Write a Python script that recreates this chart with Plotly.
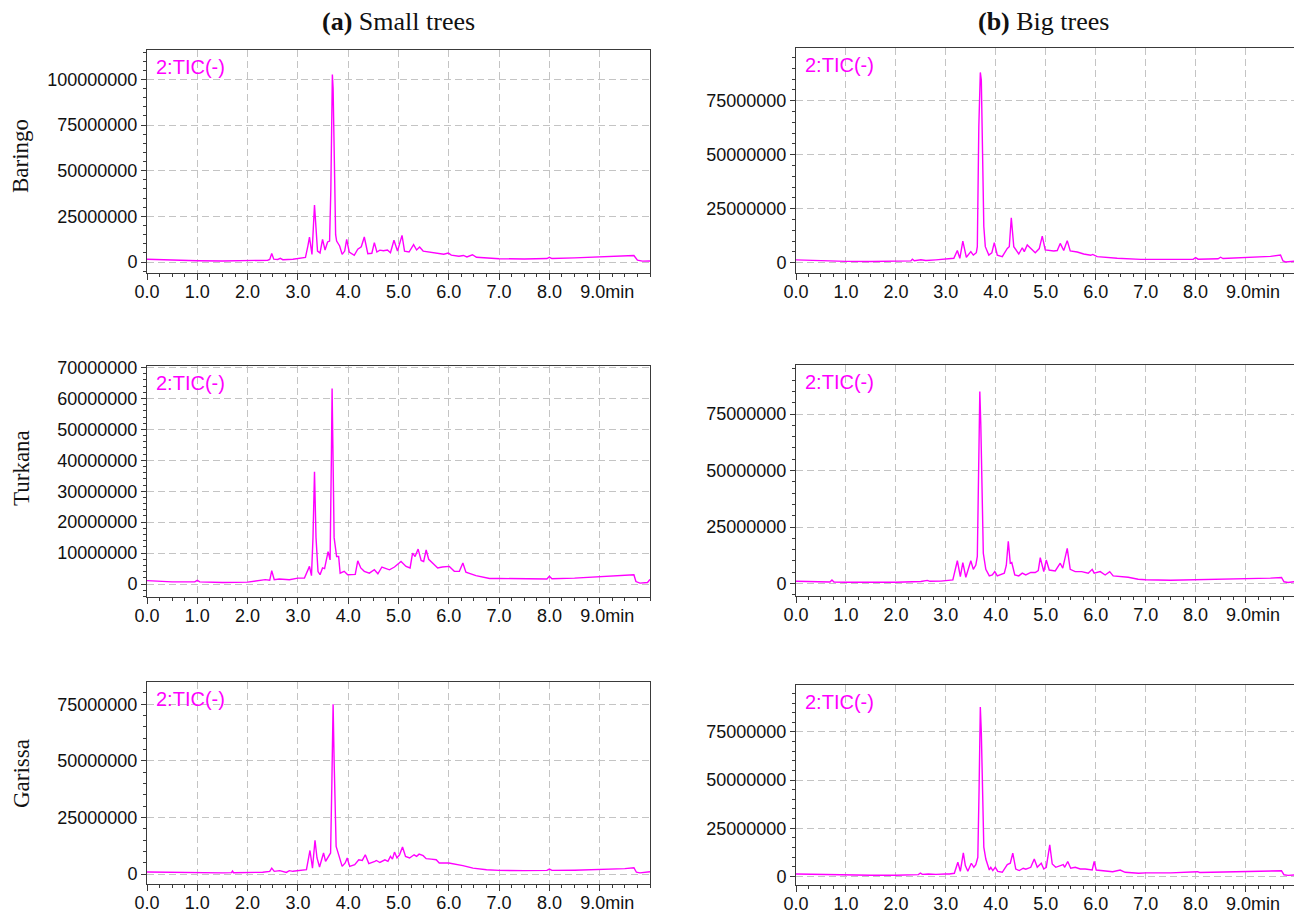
import numpy as np
import plotly.graph_objects as go

# ---------------- data (time in min, intensity in millions) ----------------
baringo_small_t = [0, 0.5, 1.0, 1.5, 2.0, 2.4, 2.44, 2.48, 2.52, 2.6, 2.65, 2.7, 2.9, 3.0, 3.1, 3.15, 3.2, 3.23, 3.28,
                   3.33, 3.39, 3.44, 3.49, 3.54, 3.59, 3.63, 3.655, 3.675, 3.685, 3.70, 3.725, 3.75, 3.77, 3.83, 3.88,
                   3.93, 3.97, 4.02, 4.12, 4.19, 4.26, 4.32, 4.39, 4.47, 4.52, 4.57, 4.63, 4.7, 4.78, 4.84, 4.91, 4.98,
                   5.07, 5.12, 5.21, 5.3, 5.36, 5.42, 5.49, 5.62, 5.75, 5.9, 5.99, 6.05, 6.2, 6.29, 6.36, 6.47, 6.55,
                   6.72, 6.9, 7.0, 7.5, 7.95, 8.0, 8.05, 8.5, 9.0, 9.5, 9.68, 9.75, 9.85, 10.0]
baringo_small_y = [1.5, 1.0, 0.7, 0.6, 0.8, 1.0, 1.4, 4.7, 1.6, 1.4, 2.0, 1.3, 1.5, 1.8, 2.0, 2.5, 9, 13.7, 4.2,
                   31.2, 6.0, 5.0, 12.4, 6.6, 11.0, 11.5, 40, 100, 102.7, 95, 50, 15, 11.5, 8.8, 4.2,
                   6.0, 12.4, 5.5, 3.7, 7.0, 8.4, 13.7, 4.6, 4.8, 10.6, 5.5, 6.5, 6.2, 6.6, 5.1, 11.9, 6.0,
                   14.6, 6.0, 5.5, 9.5, 6.6, 8.2, 6.0, 5.5, 4.7, 4.3, 4.9, 3.8, 3.2, 3.6, 2.8, 4.0, 2.6,
                   2.4, 2.0, 1.8, 1.7, 1.9, 2.6, 1.9, 2.3, 2.8, 3.3, 3.6, 1.0, 0.5, 0.6]

baringo_big_t = [0, 0.5, 1.0, 1.5, 2.0, 2.3, 2.33, 2.37, 2.5, 2.6, 2.8, 3.0, 3.16, 3.23, 3.28, 3.34, 3.41, 3.5, 3.55,
                 3.61, 3.63, 3.66, 3.69, 3.71, 3.73, 3.76, 3.79, 3.86, 3.92, 3.97, 4.03, 4.13, 4.23, 4.27, 4.31, 4.36,
                 4.46, 4.53, 4.57, 4.63, 4.79, 4.87, 4.93, 4.99, 5.16, 5.23, 5.29, 5.36, 5.43, 5.49, 5.63, 5.76, 5.9,
                 5.94, 6.03, 6.43, 6.9, 7.5, 7.95, 8.0, 8.05, 8.45, 8.5, 8.55, 9.0, 9.5, 9.7, 9.75, 9.8, 10.05]
baringo_big_y = [1.3, 0.9, 0.6, 0.5, 0.6, 0.8, 1.6, 0.9, 1.3, 1.0, 1.3, 1.5, 2.0, 5.6, 2.0, 10.0, 2.5, 5.1, 3.5,
                 4.6, 7.4, 63, 88.1, 84.5, 63, 16.7, 7.4, 3.5, 4.5, 9.3, 3.5, 2.8, 6.6, 7.4, 20.8, 7.4,
                 4.0, 6.9, 5.1, 8.2, 4.6, 6.5, 12.3, 5.9, 5.4, 5.6, 8.9, 5.6, 10.2, 5.4, 4.9, 4.0, 3.4,
                 3.8, 2.8, 2.0, 1.5, 1.4, 1.5, 2.3, 1.6, 1.8, 2.5, 1.9, 2.3, 2.9, 3.5, 0.8, 0.3, 0.8]

turkana_small_t = [0, 0.5, 0.95, 1.0, 1.05, 1.5, 2.0, 2.35, 2.44, 2.48, 2.53, 2.63, 2.83, 3.0, 3.13, 3.23, 3.27, 3.3,
                   3.33, 3.36, 3.40, 3.44, 3.49, 3.53, 3.6, 3.64, 3.665, 3.68, 3.695, 3.72, 3.77, 3.81, 3.84, 3.92,
                   3.99, 4.14, 4.19, 4.25, 4.32, 4.42, 4.52, 4.59, 4.67, 4.82, 4.92, 5.05, 5.15, 5.23, 5.28, 5.33,
                   5.39, 5.45, 5.5, 5.55, 5.6, 5.68, 5.78, 5.87, 6.01, 6.11, 6.21, 6.28, 6.34, 6.54, 6.81, 7.0, 7.5,
                   7.95, 8.0, 8.05, 8.5, 9.0, 9.5, 9.68, 9.72, 9.8, 9.95, 10.0]
turkana_small_y = [1.1, 0.7, 0.7, 1.2, 0.7, 0.5, 0.6, 1.4, 1.2, 4.3, 1.4, 1.6, 1.4, 1.9, 1.9, 5.7, 2.7, 15,
                   36.3, 15, 4.0, 3.0, 5.2, 5.0, 10.5, 7.8, 40, 63.2, 45, 15, 8.9, 8.9, 3.5, 4.1,
                   3.0, 3.1, 7.5, 5.2, 4.1, 3.5, 4.6, 3.3, 5.5, 4.6, 5.5, 7.3, 5.7, 5.2, 10.0, 8.9,
                   11.3, 7.6, 7.3, 11.0, 8.0, 6.8, 5.2, 5.5, 5.7, 4.1, 4.1, 6.8, 3.8, 2.7, 1.8, 1.8, 1.6,
                   1.6, 2.5, 1.7, 1.9, 2.3, 2.8, 3.0, 0.8, 0.3, 0.5, 1.5]

turkana_big_t = [0, 0.5, 0.68, 0.72, 0.76, 1.0, 1.5, 2.0, 2.5, 2.63, 2.68, 2.9, 3.14, 3.23, 3.29, 3.34, 3.4, 3.5,
                 3.55, 3.6, 3.63, 3.66, 3.68, 3.70, 3.72, 3.75, 3.8, 3.87, 3.93, 3.98, 4.03, 4.17, 4.21, 4.25, 4.29,
                 4.32, 4.38, 4.46, 4.53, 4.6, 4.7, 4.79, 4.85, 4.89, 4.96, 5.01, 5.07, 5.19, 5.29, 5.34, 5.43, 5.49,
                 5.59, 5.72, 5.85, 5.93, 5.97, 6.09, 6.19, 6.28, 6.35, 6.65, 6.85, 7.0, 7.5, 8.0, 8.5, 9.0, 9.5,
                 9.72, 9.77, 9.85, 10.05]
turkana_big_y = [1.0, 0.8, 0.7, 1.6, 0.7, 0.6, 0.5, 0.6, 0.9, 1.4, 1.0, 1.1, 1.6, 10.1, 3.1, 9.3, 2.8, 10.1,
                 6.3, 8.2, 12, 50, 85, 70, 40, 13.4, 6.3, 3.4, 3.8, 5.3, 3.4, 4.6, 8.0, 18.7, 9.0,
                 9.3, 3.8, 3.4, 4.6, 3.8, 4.9, 4.9, 5.7, 11.5, 5.3, 10.4, 6.0, 5.6, 9.0, 6.8, 15.6, 6.3,
                 5.3, 5.3, 4.6, 6.3, 4.6, 5.3, 3.8, 5.3, 3.4, 2.8, 1.9, 1.7, 1.5, 1.7, 1.8, 2.0, 2.4,
                 2.7, 0.8, 0.5, 1.0]

garissa_small_t = [0, 0.5, 1.0, 1.5, 1.68, 1.7, 1.72, 2.0, 2.3, 2.44, 2.48, 2.53, 2.64, 2.77, 2.83, 2.9, 3.0, 3.17,
                   3.24, 3.29, 3.34, 3.38, 3.43, 3.51, 3.55, 3.62, 3.65, 3.675, 3.70, 3.72, 3.76, 3.82, 3.88, 3.94,
                   3.98, 4.03, 4.13, 4.21, 4.28, 4.34, 4.41, 4.53, 4.56, 4.63, 4.73, 4.79, 4.84, 4.88, 4.92, 4.97,
                   5.02, 5.08, 5.14, 5.22, 5.31, 5.36, 5.41, 5.49, 5.55, 5.65, 5.75, 5.81, 6.0, 6.28, 6.48, 6.75,
                   7.0, 7.5, 7.95, 8.0, 8.05, 8.5, 9.0, 9.5, 9.68, 9.73, 9.8, 10.0]
garissa_small_y = [0.9, 0.7, 0.5, 0.5, 0.6, 1.3, 0.6, 0.6, 0.8, 1.2, 2.6, 1.2, 1.5, 0.7, 1.5, 1.2, 1.5, 1.9,
                   10.4, 2.6, 14.9, 7.1, 3.1, 9.3, 5.6, 7.8, 9.3, 40, 75, 50, 12.2, 7.8, 3.4, 4.9,
                   7.1, 3.4, 4.1, 6.3, 6.0, 8.5, 4.6, 5.6, 6.0, 5.1, 6.3, 5.6, 7.8, 6.6, 9.7, 7.1,
                   8.5, 11.9, 7.8, 7.1, 8.5, 7.8, 8.8, 8.1, 6.8, 6.6, 6.3, 4.9, 4.9, 3.7, 2.6, 1.9,
                   1.6, 1.5, 1.6, 2.2, 1.6, 1.7, 1.9, 2.4, 2.8, 0.8, 0.5, 1.0]

garissa_big_t = [0, 0.5, 1.0, 1.5, 2.0, 2.45, 2.49, 2.53, 2.65, 2.8, 3.0, 3.07, 3.17, 3.24, 3.29, 3.35, 3.39, 3.44,
                 3.51, 3.56, 3.6, 3.64, 3.665, 3.69, 3.71, 3.73, 3.76, 3.8, 3.87, 3.9, 3.94, 3.99, 4.04, 4.13, 4.23,
                 4.29, 4.34, 4.4, 4.47, 4.55, 4.6, 4.7, 4.77, 4.83, 4.91, 4.96, 5.01, 5.08, 5.13, 5.2, 5.3, 5.35,
                 5.38, 5.44, 5.5, 5.59, 5.69, 5.79, 5.93, 5.97, 6.01, 6.19, 6.34, 6.49, 6.59, 6.86, 7.0, 7.5, 8.0,
                 8.04, 8.08, 8.5, 9.0, 9.5, 9.72, 9.77, 9.85, 10.05]
garissa_big_y = [1.2, 0.9, 0.7, 0.6, 0.6, 0.9, 1.7, 1.0, 1.2, 1.0, 1.2, 1.2, 1.6, 7.3, 2.6, 12.2, 5.6, 2.6,
                 6.8, 4.7, 6.1, 9.9, 45, 88, 75, 45, 15.2, 9.0, 3.3, 4.7, 3.0, 4.7, 2.6, 2.1, 6.1,
                 6.8, 12.0, 3.8, 3.0, 4.2, 3.7, 4.7, 9.0, 4.7, 6.8, 3.8, 4.7, 16.4, 6.4, 4.7, 5.6, 6.1,
                 4.7, 7.7, 4.2, 4.7, 3.8, 3.8, 3.3, 7.7, 3.3, 2.6, 2.4, 3.3, 2.1, 1.6, 1.8, 1.8, 2.0,
                 2.4, 2.0, 2.2, 2.5, 2.8, 2.9, 0.8, 0.5, 0.8]

column_titles = ["<b>(a)</b> Small trees", "<b>(b)</b> Big trees"]
row_titles = ["Baringo", "Turkana", "Garissa"]
x_tick_vals = [0, 1, 2, 3, 4, 5, 6, 7, 8, 9]
x_tick_text = ["0.0", "1.0", "2.0", "3.0", "4.0", "5.0", "6.0", "7.0", "8.0",
               "\u00a0" * 3 + "9.0min"]
trace_label = "2:TIC(-)"

# ---------------- layout geometry (screen pixels; page body has an 8px margin) ----------------
OFF = 8
W, H = 1302 - OFF, 914 - OFF


def px_x(p):
    return (p - OFF) / W


def px_y(p):
    return 1 - (p - OFF) / H


panels = [
    # (t, y, x-domain px, y-domain px (top,bottom), y-range, y-tick step, y-tick max)
    (baringo_small_t, baringo_small_y, (147, 650), (50, 273), (-6.0e6, 1.161e8), 25e6, 100e6),
    (baringo_big_t, baringo_big_y, (796, 1298), (48, 273), (-4.8e6, 9.94e7), 25e6, 75e6),
    (turkana_small_t, turkana_small_y, (147, 650), (366, 597), (-4.2e6, 7.05e7), 10e6, 70e6),
    (turkana_big_t, turkana_big_y, (796, 1298), (365, 596), (-5.5e6, 9.67e7), 25e6, 75e6),
    (garissa_small_t, garissa_small_y, (147, 650), (682, 884), (-4.4e6, 8.48e7), 25e6, 75e6),
    (garissa_big_t, garissa_big_y, (796, 1298), (685, 885), (-4.5e6, 9.94e7), 25e6, 75e6),
]

MAGENTA = "#FF00FF"
SANS = "Liberation Sans, Arial, sans-serif"
SERIF = "Liberation Serif, Times New Roman, serif"
GRID = "#c4c4c4"
FRAME = "#3a3a3a"

fig = go.Figure()
layout = dict(width=W, height=H, margin=dict(l=0, r=0, t=0, b=0, autoexpand=False),
              paper_bgcolor="white", plot_bgcolor="white", showlegend=False)
annotations = []

for i, (t, y, xd, yd, yr, ystep, ymax) in enumerate(panels, start=1):
    xa = "x" if i == 1 else f"x{i}"
    ya = "y" if i == 1 else f"y{i}"
    fig.add_trace(go.Scatter(x=t, y=np.array(y) * 1e6, mode="lines",
                             line=dict(color=MAGENTA, width=1.4),
                             xaxis=xa, yaxis=ya, hoverinfo="skip"))
    xr = (0, 10.0) if xd[0] < 600 else (0, 10.05)
    yticks = list(np.arange(0, ymax + 1, ystep))
    layout["xaxis" if i == 1 else f"xaxis{i}"] = dict(
        domain=[px_x(xd[0]), px_x(xd[1])], anchor=ya, range=list(xr), automargin=False,
        tickvals=x_tick_vals, ticktext=x_tick_text, ticks="outside", ticklen=6, tickangle=0,
        ticklabelstandoff=-4,
        tickcolor=FRAME, tickwidth=1,
        minor=dict(dtick=0.25, ticks="outside", ticklen=3, tickcolor=FRAME, showgrid=False),
        showline=True, linecolor=FRAME, linewidth=1, mirror=True,
        showgrid=True, gridcolor=GRID, griddash="7px,4px", gridwidth=1,
        zeroline=False, tickfont=dict(family=SANS, size=18, color="#111"))
    layout["yaxis" if i == 1 else f"yaxis{i}"] = dict(
        domain=[px_y(yd[1]), px_y(yd[0])], anchor=xa, range=list(yr), automargin=False,
        tickvals=yticks, ticktext=[str(int(v)) for v in yticks], tickangle=0,
        ticks="outside", ticklen=5, tickcolor=FRAME, tickwidth=1,
        minor=dict(dtick=ystep / 5, ticks="outside", ticklen=3, tickcolor=FRAME, showgrid=False),
        showline=True, linecolor=FRAME, linewidth=1, mirror=True,
        showgrid=True, gridcolor=GRID, griddash="7px,4px", gridwidth=1,
        zeroline=False, tickfont=dict(family=SANS, size=18, color="#111"))
    annotations.append(dict(text=trace_label, xref=f"{xa} domain", yref=f"{ya} domain",
                            x=0, y=1, xanchor="left", yanchor="top", xshift=7, yshift=-4,
                            showarrow=False, font=dict(family=SANS, size=20, color=MAGENTA)))

# column titles
for title, cx in zip(column_titles, [399, 1043]):
    annotations.append(dict(text=title, xref="paper", yref="paper", x=px_x(cx), y=px_y(22),
                            xanchor="center", yanchor="middle", showarrow=False,
                            font=dict(family=SERIF, size=26, color="#111")))
# row titles
for title, cy in zip(row_titles, [156, 468, 774]):
    annotations.append(dict(text=title, xref="paper", yref="paper", x=px_x(21), y=px_y(cy),
                            xanchor="center", yanchor="middle", textangle=-90, showarrow=False,
                            font=dict(family=SERIF, size=23, color="#111")))

layout["annotations"] = annotations
fig.update_layout(**layout)
fig.write_html("out.html")
